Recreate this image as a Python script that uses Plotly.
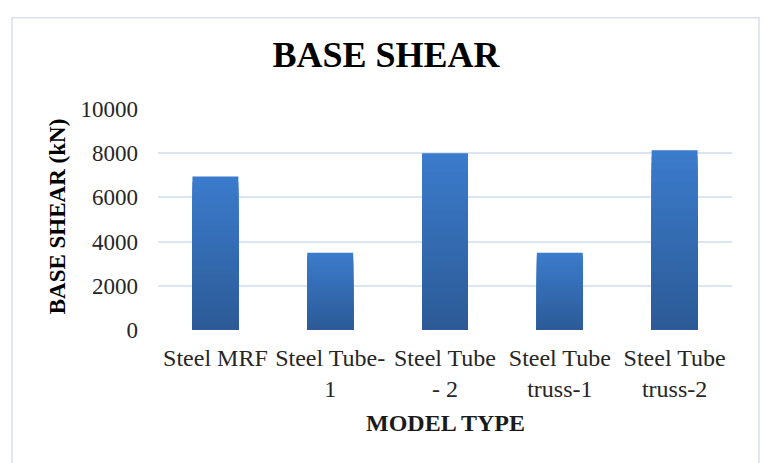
import plotly.graph_objects as go

# Chart data
categories = ["Steel MRF", "Steel Tube-<br>1", "Steel Tube<br>- 2",
              "Steel Tube<br>truss-1", "Steel Tube<br>truss-2"]
base_shear_kn = [6950, 3500, 8000, 3500, 8130]
y_tick_values = [0, 2000, 4000, 6000, 8000, 10000]
y_tick_labels = ["0", "2000", "4000", "6000", "8000", "10000"]

W, H = 764, 463
PLOT_L, PLOT_R, PLOT_T, PLOT_B = 158, 732, 108.5, 330

FONT = "Liberation Serif, Times New Roman, serif"
TOP_RGB = (59, 123, 203)
BOTTOM_RGB = (44, 91, 151)
GRID = "#dbe5f1"


def px_to_paper_x(px):
    return (px - PLOT_L) / (PLOT_R - PLOT_L)


def px_to_paper_y(py):
    return (PLOT_B - py) / (PLOT_B - PLOT_T)


fig = go.Figure()

# Vertical shading: stacked overlay layers, lighter at the top, darker at the base
layers = 28
for k in range(layers):
    t = k / (layers - 1)
    r, g, b = (round(a + (c - a) * t) for a, c in zip(TOP_RGB, BOTTOM_RGB))
    frac = (layers - k) / layers
    fig.add_trace(go.Bar(
        x=categories,
        y=[v * frac for v in base_shear_kn],
        width=0.4,
        marker=dict(color=f"rgb({r},{g},{b})", line=dict(width=0)),
        hoverinfo="skip",
        showlegend=False,
    ))

fig.update_layout(
    width=W, height=H,
    barmode="overlay",
    paper_bgcolor="white",
    plot_bgcolor="white",
    margin=dict(l=PLOT_L, r=W - PLOT_R, t=PLOT_T, b=H - PLOT_B),
    font=dict(family=FONT, color="#262626", size=24),
    title=dict(
        text="<b>BASE SHEAR</b>",
        x=386 / W, xanchor="center", xref="container",
        y=1 - 54 / H, yanchor="middle", yref="container",
        font=dict(family=FONT, size=36, color="#000000"),
    ),
    xaxis=dict(
        showgrid=False, zeroline=False, showline=False,
        ticks="", ticklabelstandoff=11,
        tickfont=dict(family=FONT, size=24, color="#262626"),
    ),
    yaxis=dict(
        range=[0, 10000],
        tickvals=y_tick_values, ticktext=y_tick_labels,
        showgrid=True, gridcolor=GRID, gridwidth=1.5,
        zeroline=False, showline=False, ticks="",
        ticklabelstandoff=19,
        tickfont=dict(family=FONT, size=23, color="#262626"),
    ),
    annotations=[
        dict(text="<b>MODEL TYPE</b>", xref="paper", yref="paper",
             x=0.5, y=px_to_paper_y(423), xanchor="center", yanchor="middle",
             showarrow=False, font=dict(family=FONT, size=24, color="#1a1a1a")),
        dict(text="<b>BASE SHEAR (kN)</b>", xref="paper", yref="paper",
             x=px_to_paper_x(57), y=px_to_paper_y(216), textangle=-90,
             xanchor="center", yanchor="middle",
             showarrow=False, font=dict(family=FONT, size=23, color="#000000")),
    ],
    shapes=[
        dict(type="rect", xref="paper", yref="paper", layer="below",
             x0=px_to_paper_x(12), x1=px_to_paper_x(759),
             y0=px_to_paper_y(470), y1=px_to_paper_y(17),
             line=dict(color="#d6e1ef", width=1.5), fillcolor="rgba(0,0,0,0)"),
    ],
)

fig.write_html("out.html")
